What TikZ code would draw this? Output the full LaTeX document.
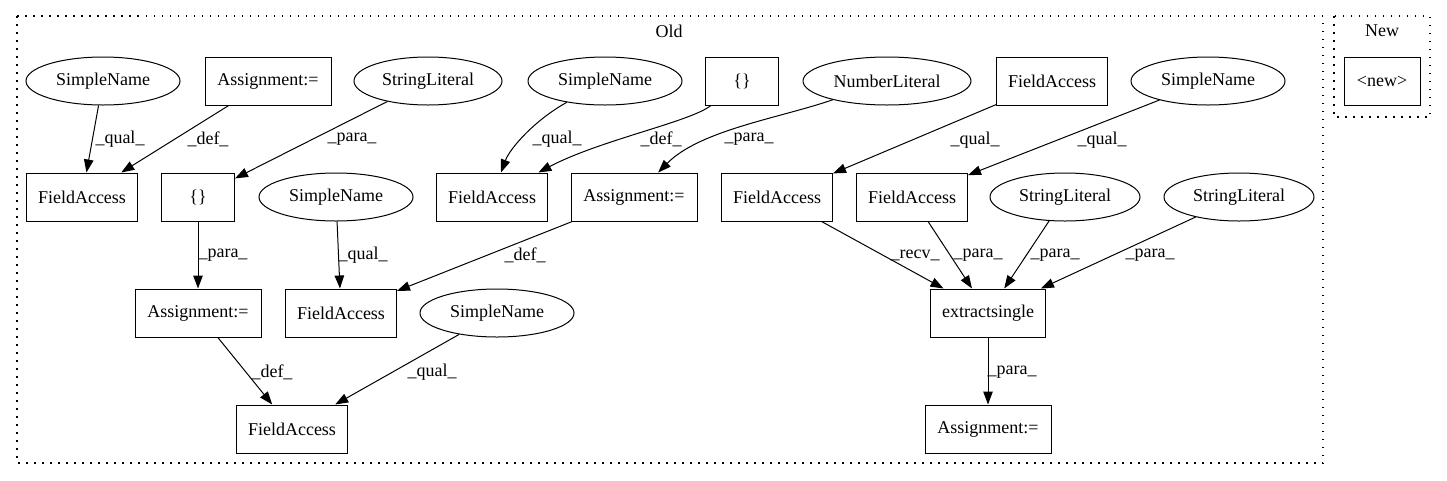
\documentclass[tikz,border=0pt]{standalone}
\usepackage{fontspec}
\setmainfont{Liberation Serif}
\usetikzlibrary{shapes.geometric,arrows.meta}
\begin{document}
\begin{tikzpicture}[x=1pt,y=-1pt,
  font=\fontsize{18}{20}\selectfont,
  every node/.style={inner sep=0pt},
  boxnode/.style={draw,line width=1pt,minimum height=48pt},
  ellnode/.style={draw,ellipse,line width=1pt,minimum height=48pt},
  edge/.style={line width=1pt,-{Triangle[length=13pt,width=9.5pt]}},
  lab/.style={},
  cluster/.style={line width=1.2pt,dash pattern=on 1.5pt off 6.5pt}]
\useasboundingbox (0,0) rectangle (1447,480);
% clusters
\draw[cluster] (17,16) rectangle (1323,463);
\node (oldlab) at (669,31) {Old};
\draw[cluster] (1334,16) rectangle (1430,117);
\node (newlab) at (1382,31) {New};
\node[boxnode,minimum width=76pt] (new) at (1382,81) {<new>};
% row 1
\node[ellnode,minimum width=154pt] (snA) at (103,81) {SimpleName};
\node[boxnode,minimum width=126pt] (asB) at (268,81) {Assignment:=};
\node[ellnode,minimum width=148pt] (slC) at (428,81) {StringLiteral};
\node[ellnode,minimum width=154pt] (snD) at (605,81) {SimpleName};
\node[boxnode,minimum width=73pt] (brE) at (742,81) {\{\}};
\node[ellnode,minimum width=168pt] (nlF) at (887,81) {NumberLiteral};
\node[boxnode,minimum width=111pt] (faG) at (1052,81) {FieldAccess};
\node[ellnode,minimum width=154pt] (snH) at (1208,81) {SimpleName};
% row 2
\node[boxnode,minimum width=111pt] (fa1) at (82,197) {FieldAccess};
\node[boxnode,minimum width=73pt] (br1) at (198,197) {\{\}};
\node[ellnode,minimum width=154pt] (sn1) at (336,197) {SimpleName};
\node[boxnode,minimum width=111pt] (fa2) at (492,197) {FieldAccess};
\node[boxnode,minimum width=126pt] (as1) at (634,197) {Assignment:=};
\node[boxnode,minimum width=111pt] (fa3) at (777,197) {FieldAccess};
\node[boxnode,minimum width=111pt] (fa4) at (912,197) {FieldAccess};
\node[ellnode,minimum width=150pt] (sl1) at (1065,197) {StringLiteral};
\node[ellnode,minimum width=150pt] (sl2) at (1239,197) {StringLiteral};
% row 3
\node[boxnode,minimum width=126pt] (as2) at (198,313) {Assignment:=};
\node[boxnode,minimum width=111pt] (fa5) at (341,313) {FieldAccess};
\node[ellnode,minimum width=154pt] (sn2) at (497,313) {SimpleName};
\node[boxnode,minimum width=115pt] (ext) at (988,313) {extractsingle};
% row 4
\node[boxnode,minimum width=111pt] (fa6) at (292,429) {FieldAccess};
\node[boxnode,minimum width=126pt] (as3) at (988,429) {Assignment:=};
% edges
\draw[edge] (snA) -- (fa1) node[lab,at={(120,139)}] {\_qual\_};
\draw[edge] (asB) -- (fa1) node[lab,at={(208,139)}] {\_def\_};
\draw[edge] (slC) -- (br1) node[lab,at={(352,139)}] {\_para\_};
\draw[edge] (snD) .. controls (535,120) and (510,148) .. (fa2) node[lab,at={(557,139)}] {\_qual\_};
\draw[edge] (brE) .. controls (690,122) and (600,140) .. (fa2) node[lab,at={(661,139)}] {\_def\_};
\draw[edge] (nlF) .. controls (780,118) and (700,130) .. (as1) node[lab,at={(749,139)}] {\_para\_};
\draw[edge] (faG) -- (fa3) node[lab,at={(975,140)}] {\_qual\_};
\draw[edge] (snH) -- (fa4) node[lab,at={(1102,140)}] {\_qual\_};
\draw[edge] (br1) -- (as2) node[lab,at={(223,255)}] {\_para\_};
\draw[edge] (sn1) -- (fa5) node[lab,at={(363,255)}] {\_qual\_};
\draw[edge] (as1) -- (fa5) node[lab,at={(525,255)}] {\_def\_};
\draw[edge] (fa3) -- (ext) node[lab,at={(915,255)}] {\_recv\_};
\draw[edge] (fa4) -- (ext) node[lab,at={(978,255)}] {\_para\_};
\draw[edge] (sl1) -- (ext) node[lab,at={(1055,255)}] {\_para\_};
\draw[edge] (sl2) -- (ext) node[lab,at={(1150,255)}] {\_para\_};
\draw[edge] (as2) -- (fa6) node[lab,at={(272,372)}] {\_def\_};
\draw[edge] (sn2) -- (fa6) node[lab,at={(432,372)}] {\_qual\_};
\draw[edge] (ext) -- (as3) node[lab,at={(1012,372)}] {\_para\_};
\end{tikzpicture}
\end{document}
